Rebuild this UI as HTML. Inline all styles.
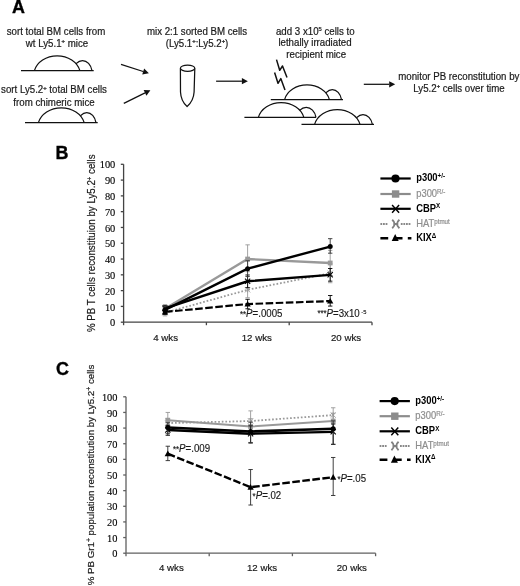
<!DOCTYPE html>
<html><head><meta charset="utf-8"><title>Figure</title>
<style>
html,body{margin:0;padding:0;background:#fff;}
body{width:520px;height:586px;overflow:hidden;}
svg{display:block;}
text{font-family:"Liberation Sans",sans-serif;fill:#1a1a1a;}
.t{font-size:10.1px;text-anchor:middle;stroke:#1a1a1a;stroke-width:0.2px;}
.s{font-size:6.1px;font-weight:bold;}
.pl{font-size:17.9px;font-weight:bold;fill:#000;stroke:#000;stroke-width:0.35px;}
.tk{font-family:"Liberation Serif",serif;font-size:10.4px;text-anchor:end;fill:#000;}
.cx{font-size:9.8px;text-anchor:middle;stroke:#1a1a1a;stroke-width:0.2px;}
.yl{font-size:10.6px;text-anchor:middle;stroke:#1a1a1a;stroke-width:0.2px;}
.lg{font-size:10px;font-weight:bold;fill:#000;}
.ls{font-size:6.6px;}
.lgg{font-size:10px;fill:#8e8e8e;stroke:#8e8e8e;stroke-width:0.2px;}
.pv{font-size:10.1px;stroke:#1a1a1a;stroke-width:0.15px;}
.st{font-size:8.2px;}
.k{stroke:#111;stroke-width:1.25;}
.ax{fill:none;}
</style></head><body>
<svg width="520" height="586" viewBox="0 0 520 586">
<rect width="520" height="586" fill="#fff"/>

<g id="panelA">
<text class="pl" x="12" y="12.7">A</text>
<text class="t" transform="translate(56 34.5) scale(0.96 1)">sort total BM cells from</text>
<text class="t" transform="translate(57 46.8) scale(0.96 1)">wt Ly5.1<tspan class="s" dy="-3.5">+</tspan><tspan dy="3.5"> mice</tspan></text>
<path d="M73.00 70.7 A9.74 12.99 0 0 1 92 70.7" class="k" fill="#fff"/><path d="M34.4 70.7 A23.33 19.16 0 0 1 79.9 70.7" class="k" fill="#fff"/><line x1="21" y1="70.7" x2="93.7" y2="70.7" class="k"/>
<text class="t" transform="translate(54 93) scale(0.96 1)">sort Ly5.2<tspan class="s" dy="-3.5">+</tspan><tspan dy="3.5"> total BM cells</tspan></text>
<text class="t" transform="translate(54 105.5) scale(0.96 1)">from chimeric mice</text>
<path d="M77.60 122.7 A9.44 13.11 0 0 1 96 122.7" class="k" fill="#fff"/><path d="M38.4 122.7 A23.49 19.16 0 0 1 84.2 122.7" class="k" fill="#fff"/><line x1="25" y1="122.7" x2="97.7" y2="122.7" class="k"/>
<line x1="121" y1="64.4" x2="143.18" y2="71.48" class="k"/><polygon points="148.9,73.3 142.24,74.43 144.13,68.52" fill="#111"/>
<line x1="123.8" y1="103.4" x2="145.03" y2="92.87" class="k"/><polygon points="150.4,90.2 146.40,95.64 143.65,90.09" fill="#111"/>
<path d="M180.4 68.5 L180.5 92 C180.8 98.5 183.6 103.5 187.1 106.5 C190.6 103.5 193.7 98.5 194.1 92 L194.8 68.5" class="k" fill="#fff" stroke-linejoin="round"/>
<ellipse cx="187.6" cy="68.2" rx="7.2" ry="3.1" class="k" fill="#fff"/>
<text class="t" transform="translate(197 34.5) scale(0.96 1)">mix 2:1 sorted BM cells</text>
<text class="t" transform="translate(197 46.8) scale(0.96 1)">(Ly5.1<tspan class="s" dy="-3.5">+</tspan><tspan dy="3.5">:Ly5.2</tspan><tspan class="s" dy="-3.5">+</tspan><tspan dy="3.5">)</tspan></text>
<line x1="216.1" y1="81.2" x2="241.90" y2="81.20" class="k"/><polygon points="247.9,81.2 241.90,84.30 241.90,78.10" fill="#111"/>
<text class="t" transform="translate(315.3 34.8) scale(0.96 1)">add 3 x10<tspan class="s" dy="-3.5" font-weight="normal" style="font-weight:normal">5</tspan><tspan dy="3.5"> cells to</tspan></text>
<text class="t" transform="translate(315 46.1) scale(0.96 1)">lethally irradiated</text>
<text class="t" transform="translate(316.2 57.6) scale(0.96 1)">recipient mice</text>
<path d="M276.5 59.6 L279.7 70.3 L282.5 66 L287 77.5" class="k" fill="none" stroke-linejoin="round" style="stroke-width:1.5"/>
<path d="M274.6 72.6 L278 83.3 L280.8 78.6 L285 90.1" class="k" fill="none" stroke-linejoin="round" style="stroke-width:1.5"/>
<path d="M323.10 99.6 A9.44 12.86 0 0 1 341.5 99.6" class="k" fill="#fff"/><path d="M284.6 99.6 A22.97 18.77 0 0 1 329.4 99.6" class="k" fill="#fff"/><line x1="270.8" y1="99.6" x2="343" y2="99.6" class="k"/>
<path d="M296.40 117.3 A10.05 12.86 0 0 1 316 117.3" class="k" fill="#fff"/><path d="M258.4 117.3 A23.28 18.90 0 0 1 303.8 117.3" class="k" fill="#fff"/><line x1="244.4" y1="117.3" x2="316" y2="117.3" class="k"/>
<path d="M353.60 124.4 A9.64 12.60 0 0 1 372.4 124.4" class="k" fill="#fff"/><path d="M314.6 124.4 A23.28 19.03 0 0 1 360 124.4" class="k" fill="#fff"/><line x1="301.5" y1="124.4" x2="374" y2="124.4" class="k"/>
<line x1="363.8" y1="84.3" x2="389.20" y2="84.30" class="k"/><polygon points="395.2,84.3 389.20,87.40 389.20,81.20" fill="#111"/>
<text class="t" transform="translate(458.8 79.6) scale(0.96 1)">monitor PB reconstitution by</text>
<text class="t" transform="translate(459 91.6) scale(0.96 1)">Ly5.2<tspan class="s" dy="-3.5">+</tspan><tspan dy="3.5"> cells over time</tspan></text>
</g>
<g id="panelB"><text class="pl" x="55.5" y="159.4">B</text><g stroke="#444" stroke-width="1.3"><path d="M123.6 164.3 L123.6 322.2 L372.0 322.2" class="ax"/><line x1="120.8" y1="322.20" x2="123.6" y2="322.20" class="ax"/><text class="tk" x="115.3" y="326.30" stroke="#000" stroke-width="0.12">0</text><line x1="120.8" y1="306.41" x2="123.6" y2="306.41" class="ax"/><text class="tk" x="115.3" y="310.51" stroke="#000" stroke-width="0.12">10</text><line x1="120.8" y1="290.62" x2="123.6" y2="290.62" class="ax"/><text class="tk" x="115.3" y="294.72" stroke="#000" stroke-width="0.12">20</text><line x1="120.8" y1="274.83" x2="123.6" y2="274.83" class="ax"/><text class="tk" x="115.3" y="278.93" stroke="#000" stroke-width="0.12">30</text><line x1="120.8" y1="259.04" x2="123.6" y2="259.04" class="ax"/><text class="tk" x="115.3" y="263.14" stroke="#000" stroke-width="0.12">40</text><line x1="120.8" y1="243.25" x2="123.6" y2="243.25" class="ax"/><text class="tk" x="115.3" y="247.35" stroke="#000" stroke-width="0.12">50</text><line x1="120.8" y1="227.46" x2="123.6" y2="227.46" class="ax"/><text class="tk" x="115.3" y="231.56" stroke="#000" stroke-width="0.12">60</text><line x1="120.8" y1="211.67" x2="123.6" y2="211.67" class="ax"/><text class="tk" x="115.3" y="215.77" stroke="#000" stroke-width="0.12">70</text><line x1="120.8" y1="195.88" x2="123.6" y2="195.88" class="ax"/><text class="tk" x="115.3" y="199.98" stroke="#000" stroke-width="0.12">80</text><line x1="120.8" y1="180.09" x2="123.6" y2="180.09" class="ax"/><text class="tk" x="115.3" y="184.19" stroke="#000" stroke-width="0.12">90</text><line x1="120.8" y1="164.30" x2="123.6" y2="164.30" class="ax"/><text class="tk" x="115.3" y="168.40" stroke="#000" stroke-width="0.12">100</text><line x1="123.6" y1="322.2" x2="123.6" y2="325.2" class="ax"/><line x1="206.39999999999998" y1="322.2" x2="206.39999999999998" y2="325.2" class="ax"/><line x1="289.2" y1="322.2" x2="289.2" y2="325.2" class="ax"/><line x1="372.0" y1="322.2" x2="372.0" y2="325.2" class="ax"/></g><text class="cx" transform="translate(165.6 341) scale(0.99 1)">4 wks</text><text class="cx" transform="translate(256.8 341) scale(0.99 1)">12 wks</text><text class="cx" transform="translate(346 341) scale(0.99 1)">20 wks</text><text class="yl" transform="translate(95.3 243.25) rotate(-90) scale(0.92 1)"><tspan font-size="10.6">% PB T cells reconstituion by Ly5.2<tspan font-size="6.5" dy="-3">+</tspan><tspan dy="3"> cells</tspan></tspan></text><path d="M165 309.57 L165 315.88 M162.8 309.57 L167.2 309.57 M162.8 315.88 L167.2 315.88" stroke="#999" stroke-width="0.9" fill="none"/><path d="M247.6 281.94 L247.6 297.73 M245.4 281.94 L249.79999999999998 281.94 M245.4 297.73 L249.79999999999998 297.73" stroke="#999" stroke-width="0.9" fill="none"/><path d="M330.2 263.78 L330.2 282.73 M328.0 263.78 L332.4 263.78 M328.0 282.73 L332.4 282.73" stroke="#999" stroke-width="0.9" fill="none"/><polyline points="165,312.73 247.6,289.83 330.2,273.25" stroke="#999" stroke-width="1.8" fill="none" stroke-dasharray="1.7 1.9"/><path d="M162.4 310.13 L167.6 315.33 M162.4 315.33 L167.6 310.13 M165 310.13 L165 315.33" stroke="#999" stroke-width="0.9" fill="none"/><path d="M245.0 287.23 L250.2 292.43 M245.0 292.43 L250.2 287.23 M247.6 287.23 L247.6 292.43" stroke="#999" stroke-width="0.9" fill="none"/><path d="M327.59999999999997 270.65 L332.8 275.85 M327.59999999999997 275.85 L332.8 270.65 M330.2 270.65 L330.2 275.85" stroke="#999" stroke-width="0.9" fill="none"/><path d="M165 305.62 L165 311.94 M162.8 305.62 L167.2 305.62 M162.8 311.94 L167.2 311.94" stroke="#999" stroke-width="0.9" fill="none"/><path d="M247.6 244.83 L247.6 271.67 M245.4 244.83 L249.79999999999998 244.83 M245.4 271.67 L249.79999999999998 271.67" stroke="#999" stroke-width="0.9" fill="none"/><path d="M330.2 250.36 L330.2 275.62 M328.0 250.36 L332.4 250.36 M328.0 275.62 L332.4 275.62" stroke="#999" stroke-width="0.9" fill="none"/><polyline points="165,308.78 247.6,259.04 330.2,262.99" stroke="#999" stroke-width="2.3" fill="none"/><rect x="162.60" y="306.38" width="4.80" height="4.80" fill="#999"/><rect x="245.20" y="256.64" width="4.80" height="4.80" fill="#999"/><rect x="327.80" y="260.59" width="4.80" height="4.80" fill="#999"/><path d="M165 305.15 L165 311.46 M162.8 305.15 L167.2 305.15 M162.8 311.46 L167.2 311.46" stroke="#000" stroke-width="0.9" fill="none"/><path d="M247.6 274.99 L247.6 287.62 M245.4 274.99 L249.79999999999998 274.99 M245.4 287.62 L249.79999999999998 287.62" stroke="#000" stroke-width="0.9" fill="none"/><path d="M330.2 268.51 L330.2 281.15 M328.0 268.51 L332.4 268.51 M328.0 281.15 L332.4 281.15" stroke="#000" stroke-width="0.9" fill="none"/><polyline points="165,308.30 247.6,281.30 330.2,274.83" stroke="#000" stroke-width="2.4" fill="none"/><path d="M162.4 305.70 L167.6 310.90 M162.4 310.90 L167.6 305.70" stroke="#000" stroke-width="1.1" fill="none"/><path d="M245.0 278.70 L250.2 283.90 M245.0 283.90 L250.2 278.70" stroke="#000" stroke-width="1.1" fill="none"/><path d="M327.59999999999997 272.23 L332.8 277.43 M327.59999999999997 277.43 L332.8 272.23" stroke="#000" stroke-width="1.1" fill="none"/><path d="M165 306.73 L165 313.04 M162.8 306.73 L167.2 306.73 M162.8 313.04 L167.2 313.04" stroke="#333" stroke-width="0.9" fill="none"/><path d="M247.6 260.78 L247.6 276.57 M245.4 260.78 L249.79999999999998 260.78 M245.4 276.57 L249.79999999999998 276.57" stroke="#333" stroke-width="0.9" fill="none"/><path d="M330.2 238.67 L330.2 253.20 M328.0 238.67 L332.4 238.67 M328.0 253.20 L332.4 253.20" stroke="#333" stroke-width="0.9" fill="none"/><polyline points="165,309.88 247.6,268.67 330.2,246.57" stroke="#000" stroke-width="2.4" fill="none"/><circle cx="165" cy="309.88" r="2.50" fill="#000"/><circle cx="247.6" cy="268.67" r="2.50" fill="#000"/><circle cx="330.2" cy="246.57" r="2.50" fill="#000"/><path d="M165 309.57 L165 314.31 M162.8 309.57 L167.2 309.57 M162.8 314.31 L167.2 314.31" stroke="#000" stroke-width="0.9" fill="none"/><path d="M247.6 299.30 L247.6 308.78 M245.4 299.30 L249.79999999999998 299.30 M245.4 308.78 L249.79999999999998 308.78" stroke="#000" stroke-width="0.9" fill="none"/><path d="M330.2 295.51 L330.2 306.09 M328.0 295.51 L332.4 295.51 M328.0 306.09 L332.4 306.09" stroke="#000" stroke-width="0.9" fill="none"/><polyline points="165,311.94 247.6,304.04 330.2,301.04" stroke="#000" stroke-width="2.2" fill="none" stroke-dasharray="7.6 2.5"/><polygon points="165,308.79 168.15,314.49 161.85,314.49" fill="#000"/><polygon points="247.6,300.89 250.75,306.59 244.45,306.59" fill="#000"/><polygon points="330.2,297.89 333.34999999999997,303.59 327.05,303.59" fill="#000"/><text class="pv" transform="translate(240 317.3) scale(0.96 1)"><tspan class="st" dy="-0.4">**</tspan><tspan font-style="italic" dy="0.4">P</tspan>=.0005</text><text class="pv" transform="translate(317.4 316.5) scale(0.96 1)"><tspan class="st" dy="-0.4">***</tspan><tspan font-style="italic" dy="0.4">P</tspan>=3x10<tspan font-size="6" dy="-2.8"> -5</tspan></text><line x1="380.4" y1="178.5" x2="410.7" y2="178.5" stroke="#000" stroke-width="2.2"/><circle cx="395.5" cy="178.5" r="4.1" fill="#000"/><text class="lg" transform="translate(416.2 181.3) scale(0.94 1)">p300<tspan class="ls" dy="-3.3">+/-</tspan></text><line x1="380.4" y1="194" x2="410.7" y2="194" stroke="#8c8c8c" stroke-width="2.2"/><rect x="391.9" y="190.3" width="7.4" height="7.4" fill="#8c8c8c"/><text class="lgg" transform="translate(416.2 196.8) scale(0.94 1)">p300<tspan class="ls" dy="-3.3">R/-</tspan></text><line x1="380.4" y1="208.8" x2="410.7" y2="208.8" stroke="#000" stroke-width="2.2"/><path d="M392.09999999999997 204.9 L399.09999999999997 212.70000000000002 M392.09999999999997 212.70000000000002 L399.09999999999997 204.9" stroke="#000" stroke-width="1.45" fill="none"/><text class="lg" transform="translate(416.2 211.6) scale(0.94 1)">CBP<tspan class="ls" dy="-3.3">X</tspan></text><path d="M380.4 224 h7.6 M400.79999999999995 224 h10.2" stroke="#888" stroke-width="2.1" stroke-dasharray="1.8 0.8" fill="none"/><path d="M392.19999999999993 219.8 Q396.99999999999994 224 392.19999999999993 228.2 M399.4 219.8 Q394.59999999999997 224 399.4 228.2 M393.29999999999995 224 h5" stroke="#808080" stroke-width="1.9" fill="none"/><text class="lgg" transform="translate(416.2 226.8) scale(0.94 1)">HAT<tspan class="ls" dy="-3.3">ptmut</tspan></text><path d="M380.4 238.2 h7.8 M393.9 238.2 h8.6 M407.79999999999995 238.2 h3.6" stroke="#000" stroke-width="2.4" fill="none"/><polygon points="395.2,234.0 398.7,241.1 391.7,241.1" fill="#000"/><text class="lg" transform="translate(416.2 241.0) scale(0.94 1)">KIX<tspan class="ls" dy="-3.3">Δ</tspan></text></g>
<g id="panelC"><text class="pl" x="56" y="375">C</text><g stroke="#606060" stroke-width="1.3"><path d="M126.0 396.8 L126.0 553.2 L375.6 553.2" class="ax"/><line x1="123.2" y1="553.20" x2="126.0" y2="553.20" class="ax"/><text class="tk" x="117.5" y="557.30" stroke="#000" stroke-width="0.12">0</text><line x1="123.2" y1="537.56" x2="126.0" y2="537.56" class="ax"/><text class="tk" x="117.5" y="541.66" stroke="#000" stroke-width="0.12">10</text><line x1="123.2" y1="521.92" x2="126.0" y2="521.92" class="ax"/><text class="tk" x="117.5" y="526.02" stroke="#000" stroke-width="0.12">20</text><line x1="123.2" y1="506.28" x2="126.0" y2="506.28" class="ax"/><text class="tk" x="117.5" y="510.38" stroke="#000" stroke-width="0.12">30</text><line x1="123.2" y1="490.64" x2="126.0" y2="490.64" class="ax"/><text class="tk" x="117.5" y="494.74" stroke="#000" stroke-width="0.12">40</text><line x1="123.2" y1="475.00" x2="126.0" y2="475.00" class="ax"/><text class="tk" x="117.5" y="479.10" stroke="#000" stroke-width="0.12">50</text><line x1="123.2" y1="459.36" x2="126.0" y2="459.36" class="ax"/><text class="tk" x="117.5" y="463.46" stroke="#000" stroke-width="0.12">60</text><line x1="123.2" y1="443.72" x2="126.0" y2="443.72" class="ax"/><text class="tk" x="117.5" y="447.82" stroke="#000" stroke-width="0.12">70</text><line x1="123.2" y1="428.08" x2="126.0" y2="428.08" class="ax"/><text class="tk" x="117.5" y="432.18" stroke="#000" stroke-width="0.12">80</text><line x1="123.2" y1="412.44" x2="126.0" y2="412.44" class="ax"/><text class="tk" x="117.5" y="416.54" stroke="#000" stroke-width="0.12">90</text><line x1="123.2" y1="396.80" x2="126.0" y2="396.80" class="ax"/><text class="tk" x="117.5" y="400.90" stroke="#000" stroke-width="0.12">100</text><line x1="126.0" y1="553.2" x2="126.0" y2="556.2" class="ax"/><line x1="209.2" y1="553.2" x2="209.2" y2="556.2" class="ax"/><line x1="292.4" y1="553.2" x2="292.4" y2="556.2" class="ax"/><line x1="375.6" y1="553.2" x2="375.6" y2="556.2" class="ax"/></g><text class="cx" transform="translate(171.4 571.3) scale(0.99 1)">4 wks</text><text class="cx" transform="translate(262 571.3) scale(0.99 1)">12 wks</text><text class="cx" transform="translate(351.8 571.3) scale(0.99 1)">20 wks</text><text class="yl" transform="translate(93.8 475.0) rotate(-90) scale(1.047 1)"><tspan font-size="9.3">% PB Gr1<tspan font-size="6.5" dy="-3">+</tspan><tspan dy="3"> population reconstitution by Ly5.2</tspan><tspan font-size="6.5" dy="-3">+</tspan><tspan dy="3"> cells</tspan></tspan></text><path d="M167.8 418.38 L167.8 427.77 M165.60000000000002 418.38 L170.0 418.38 M165.60000000000002 427.77 L170.0 427.77" stroke="#999" stroke-width="0.9" fill="none"/><path d="M250.6 410.88 L250.6 430.43 M248.4 410.88 L252.79999999999998 410.88 M248.4 430.43 L252.79999999999998 430.43" stroke="#999" stroke-width="0.9" fill="none"/><path d="M333.2 407.75 L333.2 421.35 M331.0 407.75 L335.4 407.75 M331.0 421.35 L335.4 421.35" stroke="#999" stroke-width="0.9" fill="none"/><polyline points="167.8,423.08 250.6,421.04 333.2,415.10" stroke="#999" stroke-width="1.8" fill="none" stroke-dasharray="1.7 1.9"/><path d="M165.20000000000002 420.48 L170.4 425.68 M165.20000000000002 425.68 L170.4 420.48 M167.8 420.48 L167.8 425.68" stroke="#999" stroke-width="0.9" fill="none"/><path d="M248.0 418.44 L253.2 423.64 M248.0 423.64 L253.2 418.44 M250.6 418.44 L250.6 423.64" stroke="#999" stroke-width="0.9" fill="none"/><path d="M330.59999999999997 412.50 L335.8 417.70 M330.59999999999997 417.70 L335.8 412.50 M333.2 412.50 L333.2 417.70" stroke="#999" stroke-width="0.9" fill="none"/><path d="M167.8 412.44 L167.8 426.52 M165.60000000000002 412.44 L170.0 412.44 M165.60000000000002 426.52 L170.0 426.52" stroke="#999" stroke-width="0.9" fill="none"/><path d="M250.6 418.70 L250.6 434.34 M248.4 418.70 L252.79999999999998 418.70 M248.4 434.34 L252.79999999999998 434.34" stroke="#999" stroke-width="0.9" fill="none"/><path d="M333.2 413.22 L333.2 428.86 M331.0 413.22 L335.4 413.22 M331.0 428.86 L335.4 428.86" stroke="#999" stroke-width="0.9" fill="none"/><polyline points="167.8,420.26 250.6,426.52 333.2,421.04" stroke="#999" stroke-width="2" fill="none"/><rect x="165.40" y="417.86" width="4.80" height="4.80" fill="#999"/><rect x="248.20" y="424.12" width="4.80" height="4.80" fill="#999"/><rect x="330.80" y="418.64" width="4.80" height="4.80" fill="#999"/><path d="M167.8 425.26 L167.8 435.27 M165.60000000000002 425.26 L170.0 425.26 M165.60000000000002 435.27 L170.0 435.27" stroke="#000" stroke-width="0.9" fill="none"/><path d="M250.6 425.89 L250.6 443.09 M248.4 425.89 L252.79999999999998 425.89 M248.4 443.09 L252.79999999999998 443.09" stroke="#000" stroke-width="0.9" fill="none"/><path d="M333.2 424.01 L333.2 444.35 M331.0 424.01 L335.4 424.01 M331.0 444.35 L335.4 444.35" stroke="#000" stroke-width="0.9" fill="none"/><polyline points="167.8,429.96 250.6,433.71 333.2,431.83" stroke="#000" stroke-width="2.4" fill="none"/><path d="M165.20000000000002 427.36 L170.4 432.56 M165.20000000000002 432.56 L170.4 427.36" stroke="#000" stroke-width="1.1" fill="none"/><path d="M248.0 431.11 L253.2 436.31 M248.0 436.31 L253.2 431.11" stroke="#000" stroke-width="1.1" fill="none"/><path d="M330.59999999999997 429.23 L335.8 434.43 M330.59999999999997 434.43 L335.8 429.23" stroke="#000" stroke-width="1.1" fill="none"/><path d="M167.8 422.76 L167.8 433.71 M165.60000000000002 422.76 L170.0 422.76 M165.60000000000002 433.71 L170.0 433.71" stroke="#333" stroke-width="0.9" fill="none"/><path d="M250.6 422.14 L250.6 442.47 M248.4 422.14 L252.79999999999998 422.14 M248.4 442.47 L252.79999999999998 442.47" stroke="#333" stroke-width="0.9" fill="none"/><path d="M333.2 420.89 L333.2 444.35 M331.0 420.89 L335.4 420.89 M331.0 444.35 L335.4 444.35" stroke="#333" stroke-width="0.9" fill="none"/><polyline points="167.8,427.45 250.6,431.52 333.2,428.71" stroke="#000" stroke-width="2.6" fill="none"/><circle cx="167.8" cy="427.45" r="2.50" fill="#000"/><circle cx="250.6" cy="431.52" r="2.50" fill="#000"/><circle cx="333.2" cy="428.71" r="2.50" fill="#000"/><path d="M167.8 446.22 L167.8 460.61 M165.60000000000002 446.22 L170.0 446.22 M165.60000000000002 460.61 L170.0 460.61" stroke="#2a2a2a" stroke-width="0.9" fill="none"/><path d="M250.6 469.53 L250.6 505.03 M248.4 469.53 L252.79999999999998 469.53 M248.4 505.03 L252.79999999999998 505.03" stroke="#2a2a2a" stroke-width="0.9" fill="none"/><path d="M333.2 457.48 L333.2 495.49 M331.0 457.48 L335.4 457.48 M331.0 495.49 L335.4 495.49" stroke="#2a2a2a" stroke-width="0.9" fill="none"/><polyline points="167.8,453.73 250.6,487.20 333.2,477.19" stroke="#000" stroke-width="2.4" fill="none" stroke-dasharray="7.6 2.5"/><polygon points="167.8,450.58 170.95000000000002,456.28 164.65,456.28" fill="#000"/><polygon points="250.6,484.05 253.75,489.75 247.45,489.75" fill="#000"/><polygon points="333.2,474.04 336.34999999999997,479.74 330.05,479.74" fill="#000"/><text class="pv" transform="translate(173 452.3) scale(0.96 1)"><tspan class="st" dy="-0.4">**</tspan><tspan font-style="italic" dy="0.4">P</tspan>=.009</text><text class="pv" transform="translate(252.6 499) scale(0.96 1)"><tspan class="st" dy="-0.4">*</tspan><tspan font-style="italic" dy="0.4">P</tspan>=.02</text><text class="pv" transform="translate(337.4 482.4) scale(0.96 1)"><tspan class="st" dy="-0.4">*</tspan><tspan font-style="italic" dy="0.4">P</tspan>=.05</text><line x1="379.6" y1="401.1" x2="409.90000000000003" y2="401.1" stroke="#000" stroke-width="2.2"/><circle cx="394.70000000000005" cy="401.1" r="4.1" fill="#000"/><text class="lg" transform="translate(415.3 403.9) scale(0.94 1)">p300<tspan class="ls" dy="-3.3">+/-</tspan></text><line x1="379.6" y1="416.2" x2="409.90000000000003" y2="416.2" stroke="#8c8c8c" stroke-width="2.2"/><rect x="391.1" y="412.5" width="7.4" height="7.4" fill="#8c8c8c"/><text class="lgg" transform="translate(415.3 419.0) scale(0.94 1)">p300<tspan class="ls" dy="-3.3">R/-</tspan></text><line x1="379.6" y1="431.3" x2="409.90000000000003" y2="431.3" stroke="#000" stroke-width="2.2"/><path d="M391.3 427.40000000000003 L398.3 435.2 M391.3 435.2 L398.3 427.40000000000003" stroke="#000" stroke-width="1.45" fill="none"/><text class="lg" transform="translate(415.3 434.1) scale(0.94 1)">CBP<tspan class="ls" dy="-3.3">X</tspan></text><path d="M379.6 446 h7.6 M400.0 446 h10.2" stroke="#888" stroke-width="2.1" stroke-dasharray="1.8 0.8" fill="none"/><path d="M391.4 441.8 Q396.2 446 391.4 450.2 M398.6 441.8 Q393.8 446 398.6 450.2 M392.5 446 h5" stroke="#808080" stroke-width="1.9" fill="none"/><text class="lgg" transform="translate(415.3 448.8) scale(0.94 1)">HAT<tspan class="ls" dy="-3.3">ptmut</tspan></text><path d="M379.6 459.8 h7.8 M393.1 459.8 h8.6 M407.0 459.8 h3.6" stroke="#000" stroke-width="2.4" fill="none"/><polygon points="394.40000000000003,455.6 397.90000000000003,462.7 390.90000000000003,462.7" fill="#000"/><text class="lg" transform="translate(415.3 462.6) scale(0.94 1)">KIX<tspan class="ls" dy="-3.3">Δ</tspan></text></g>
</svg></body></html>
